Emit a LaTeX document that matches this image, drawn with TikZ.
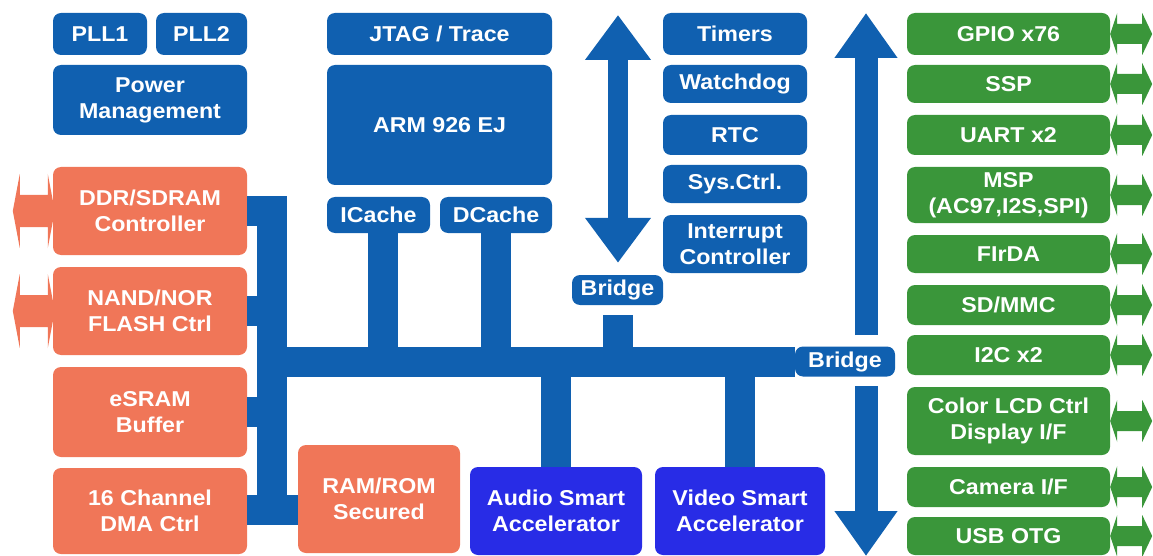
\documentclass[tikz,border=0pt]{standalone}
\usepackage{fontspec}
\setmainfont{Liberation Sans}[FakeStretch=1.08]
\usetikzlibrary{arrows.meta,calc}
\definecolor{cblue}{RGB}{16,96,176}
\definecolor{coral}{RGB}{240,118,88}
\definecolor{cgreen}{RGB}{58,150,58}
\definecolor{violet}{RGB}{40,44,230}
\begin{document}
\begin{tikzpicture}[x=1pt,y=-1pt,
  blk/.style={rounded corners=8pt, inner sep=0pt, align=center, text=white,
    font=\fontsize{21.5}{26}\selectfont\bfseries},
  bluebox/.style={blk, fill=cblue},
  orbox/.style={blk, fill=coral},
  grbox/.style={blk, fill=cgreen, minimum width=203pt},
  vibox/.style={blk, fill=violet},
  bus/.style={draw=cblue, line width=30pt, line join=miter, line cap=butt},
  fatarrow/.style={draw=cblue, line width=#1},
]
\useasboundingbox (0,0) rectangle (1153,556);

% ---------- blue blocks ----------
\node[bluebox, minimum width=94pt, minimum height=42pt] (pll1) at (100,34) {PLL1};
\node[bluebox, minimum width=91pt, minimum height=42pt] (pll2) at (201.5,34) {PLL2};
\node[bluebox, minimum width=194pt, minimum height=70pt] (pwr) at (150,100) {Power\\Management};
\node[bluebox, minimum width=225pt, minimum height=42pt] (jtag) at (439.5,34) {JTAG / Trace};
\node[bluebox, minimum width=225pt, minimum height=120pt] (arm) at (439.5,125) {ARM 926 EJ};
\node[bluebox, minimum width=103pt, minimum height=36pt] (icache) at (378.5,215) {ICache};
\node[bluebox, minimum width=112pt, minimum height=36pt] (dcache) at (496,215) {DCache};
\node[bluebox, minimum width=144pt, minimum height=42pt] (timers) at (735,34) {Timers};
\node[bluebox, minimum width=144pt, minimum height=38pt] (wdog) at (735,84) {Watchdog};
\node[bluebox, minimum width=144pt, minimum height=40pt] (rtc) at (735,135) {RTC};
\node[bluebox, minimum width=144pt, minimum height=38pt] (sysc) at (735,184) {Sys.Ctrl.};
\node[bluebox, minimum width=144pt, minimum height=58pt] (intc) at (735,244) {Interrupt\\Controller};
\node[bluebox, minimum width=91pt, minimum height=30pt] (bridge1) at (617.5,290) {Bridge};
\node[bluebox, minimum width=100pt, minimum height=30pt] (bridge2) at (845,361.5) {Bridge};

% ---------- orange blocks ----------
\node[orbox, minimum width=194pt, minimum height=88pt] (ddr) at (150,211) {DDR/SDRAM\\Controller};
\node[orbox, minimum width=194pt, minimum height=88pt] (nand) at (150,311) {NAND/NOR\\FLASH Ctrl};
\node[orbox, minimum width=194pt, minimum height=90pt] (esram) at (150,412) {eSRAM\\Buffer};
\node[orbox, minimum width=194pt, minimum height=86pt] (dma) at (150,511) {16 Channel\\DMA Ctrl};
\node[orbox, minimum width=162pt, minimum height=108pt] (ramrom) at (379,499) {RAM/ROM\\Secured};

% ---------- violet blocks ----------
\node[vibox, minimum width=172pt, minimum height=88pt] (audio) at (556,511) {Audio Smart\\Accelerator};
\node[vibox, minimum width=170pt, minimum height=88pt] (video) at (740,511) {Video Smart\\Accelerator};

% ---------- green blocks ----------
\node[grbox, minimum height=42pt] (gpio) at (1008.5,34) {GPIO x76};
\node[grbox, minimum height=38pt] (ssp) at (1008.5,84) {SSP};
\node[grbox, minimum height=40pt] (uart) at (1008.5,135) {UART x2};
\node[grbox, minimum height=56pt] (msp) at (1008.5,195) {MSP\\(AC97,I2S,SPI)};
\node[grbox, minimum height=38pt] (irda) at (1008.5,254) {FIrDA};
\node[grbox, minimum height=40pt] (sd) at (1008.5,305) {SD/MMC};
\node[grbox, minimum height=40pt] (iic) at (1008.5,355) {I2C x2};
\node[grbox, minimum height=68pt] (lcd) at (1008.5,421) {Color LCD Ctrl\\Display I/F};
\node[grbox, minimum height=40pt] (cam) at (1008.5,487) {Camera I/F};
\node[grbox, minimum height=38pt] (usb) at (1008.5,536) {USB OTG};

% ---------- external arrows ----------
\foreach \n in {gpio,ssp,uart,msp,irda,sd,iic,lcd,cam,usb}{
  \fill[cgreen] (\n.east) -- ++(7,-21) -- ++(0,11) -- ++(25,0) -- ++(0,-11)
    -- ++(10,21) -- ++(-10,21) -- ++(0,-11) -- ++(-25,0) -- ++(0,11) -- cycle;
}
\foreach \n in {ddr,nand}{
  \fill[coral] ($(\n.west)+(-40,0)$) -- ++(7,-37) -- ++(0,21) -- ++(28,0) -- ++(0,-21)
    -- ++(7,37) -- ++(-7,37) -- ++(0,-21) -- ++(-28,0) -- ++(0,21) -- cycle;
}

% ---------- bus ----------
\coordinate (bl) at (272,510);
\coordinate (hb) at (272,361.5);
\draw[bus] (ddr.east) -| (bl) -- (ramrom.west |- bl);
\draw[bus] (dma.east |- bl) -- (bl);
\draw[bus] (nand.east) -- (nand.east -| bl);
\draw[bus] (esram.east) -- (esram.east -| bl);
\draw[bus] (hb) -- (bridge2.west);
\coordinate (ic) at ($(icache.south)+(4.5,0)$);
\draw[bus] (ic) -- (ic |- hb);
\draw[bus] (dcache.south) -- (dcache.south |- hb);
\coordinate (b1s) at ($(bridge1.south)+(0,10)$);
\draw[bus] (b1s) -- (b1s |- hb);
\draw[bus] (audio.north) -- (audio.north |- hb);
\draw[bus] (video.north) -- (video.north |- hb);

% ---------- system bus arrows ----------
\coordinate (atop) at (618,15);
\coordinate (abot) at ($(bridge1.north)+(0.5,-12)$);
\draw[fatarrow=20pt, {Triangle[length=45pt,width=63pt]}-{Triangle[length=45pt,width=63pt]}] (abot) -- (atop);
\coordinate (rtop) at (866,13);
\coordinate (rup) at (866,335);
\coordinate (rdn) at (866,386);
\coordinate (rbot) at (866,556);
\draw[fatarrow=23pt, -{Triangle[length=45pt,width=60pt]}] (rup) -- (rtop);
\draw[fatarrow=23pt, -{Triangle[length=45pt,width=60pt]}] (rdn) -- (rbot);
\end{tikzpicture}
\end{document}
